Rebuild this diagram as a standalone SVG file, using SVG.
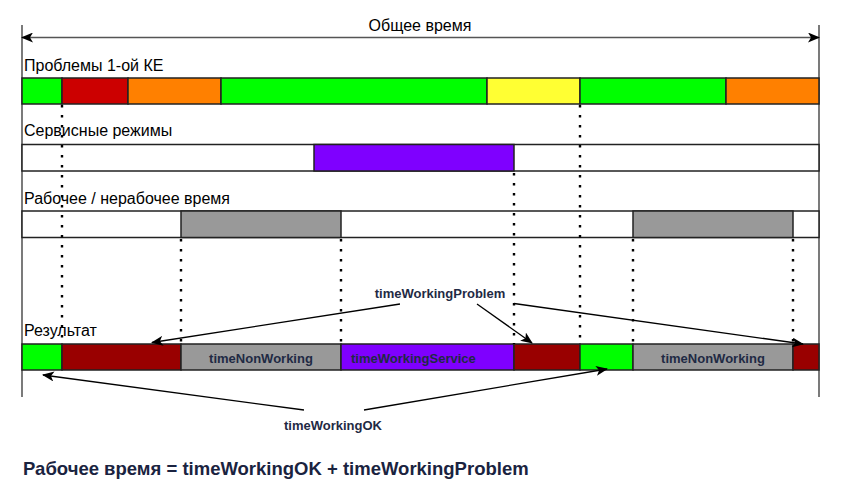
<svg xmlns="http://www.w3.org/2000/svg" width="849" height="495" viewBox="0 0 849 495">
<defs>
<marker id="arr" viewBox="0 0 12 10" refX="11" refY="5" markerWidth="12" markerHeight="10" markerUnits="userSpaceOnUse" orient="auto-start-reverse">
<path d="M0,0 L12,5 L0,10 L3,5 Z" fill="#000"/>
</marker>
</defs>
<style>
.t{font-family:"Liberation Sans",Arial,sans-serif;font-size:16px;fill:#000}
.b{font-family:"Liberation Sans",Arial,sans-serif;font-size:13px;font-weight:bold;fill:#1f2a44}
.seg{stroke:#222;stroke-width:1.5}
.dot{stroke:#000;stroke-width:2.4;stroke-dasharray:2.4 7.6;fill:none}
.ln{stroke:#000;stroke-width:1.3;fill:none}
</style>
<rect width="849" height="495" fill="#fff"/>
<g id="frame">
<line x1="22" y1="25" x2="22" y2="397" stroke="#333" stroke-width="1.3"/>
<line x1="819" y1="25" x2="819" y2="397" stroke="#333" stroke-width="1.3"/>
<line x1="22" y1="37.5" x2="819" y2="37.5" stroke="#555" stroke-width="1.5" marker-start="url(#arr)" marker-end="url(#arr)"/>
<text class="t" x="420" y="31" text-anchor="middle">Общее время</text>
</g>
<g id="row-problems">
<text class="t" x="24" y="71">Проблемы 1-ой КЕ</text>
<rect class="seg" x="22" y="78" width="40" height="26" fill="#00ff00"/>
<rect class="seg" x="62" y="78" width="66" height="26" fill="#cc0000"/>
<rect class="seg" x="128" y="78" width="93" height="26" fill="#ff8000"/>
<rect class="seg" x="221" y="78" width="266" height="26" fill="#00ff00"/>
<rect class="seg" x="487" y="78" width="93" height="26" fill="#ffff33"/>
<rect class="seg" x="580" y="78" width="146" height="26" fill="#00ff00"/>
<rect class="seg" x="726" y="78" width="93" height="26" fill="#ff8000"/>
</g>
<g id="row-service">
<text class="t" x="24" y="136">Сервисные режимы</text>
<rect class="seg" x="22" y="144.5" width="797" height="26.5" fill="#fff" stroke="#444"/>
<rect class="seg" x="314" y="144.5" width="200" height="26.5" fill="#7f00ff"/>
</g>
<g id="row-working">
<text class="t" x="24" y="204">Рабочее / нерабочее время</text>
<rect class="seg" x="22" y="211" width="797" height="26.5" fill="#fff" stroke="#444"/>
<rect class="seg" x="181" y="211" width="160" height="26.5" fill="#999999"/>
<rect class="seg" x="633" y="211" width="160" height="26.5" fill="#999999"/>
</g>
<g id="row-result">
<text class="t" x="24" y="336">Результат</text>
<rect class="seg" x="22" y="344" width="40" height="26" fill="#00ff00"/>
<rect class="seg" x="62" y="344" width="119" height="26" fill="#990000"/>
<rect class="seg" x="181" y="344" width="160" height="26" fill="#999999"/>
<rect class="seg" x="341" y="344" width="173" height="26" fill="#7f00ff"/>
<rect class="seg" x="514" y="344" width="66" height="26" fill="#990000"/>
<rect class="seg" x="580" y="344" width="53" height="26" fill="#00ff00"/>
<rect class="seg" x="633" y="344" width="160" height="26" fill="#999999"/>
<rect class="seg" x="793" y="344" width="26" height="26" fill="#990000"/>
<text class="b" x="261" y="362.5" text-anchor="middle">timeNonWorking</text>
<text class="b" x="351" y="362.5">timeWorkingService</text>
<text class="b" x="713" y="362.5" text-anchor="middle">timeNonWorking</text>
</g>
<g id="connectors">
<line class="dot" x1="62" y1="105" x2="62" y2="344"/>
<line class="dot" x1="181" y1="239" x2="181" y2="344"/>
<line class="dot" x1="341" y1="239" x2="341" y2="344"/>
<line class="dot" x1="514" y1="173" x2="514" y2="344"/>
<line class="dot" x1="580" y1="105" x2="580" y2="344"/>
<line class="dot" x1="633" y1="239" x2="633" y2="344"/>
<line class="dot" x1="793" y1="239" x2="793" y2="344"/>
<line class="ln" x1="400" y1="304" x2="152" y2="342.5" marker-end="url(#arr)"/>
<line class="ln" x1="477" y1="304" x2="532" y2="343" marker-end="url(#arr)"/>
<line class="ln" x1="514" y1="303.5" x2="803" y2="344" marker-end="url(#arr)"/>
<line class="ln" x1="304" y1="410" x2="43" y2="375" marker-end="url(#arr)"/>
<line class="ln" x1="364" y1="410" x2="607" y2="369" marker-end="url(#arr)"/>
</g>
<g id="label-problem">
<text class="b" x="440" y="298" text-anchor="middle">timeWorkingProblem</text>
</g>
<g id="label-ok">
<text class="b" x="333" y="430" text-anchor="middle">timeWorkingOK</text>
</g>
<g id="formula">
<text x="23" y="475" font-family="Liberation Sans, Arial, sans-serif" font-size="18.5" font-weight="bold" fill="#1a2340">Рабочее время = timeWorkingOK + timeWorkingProblem</text>
</g>
</svg>
